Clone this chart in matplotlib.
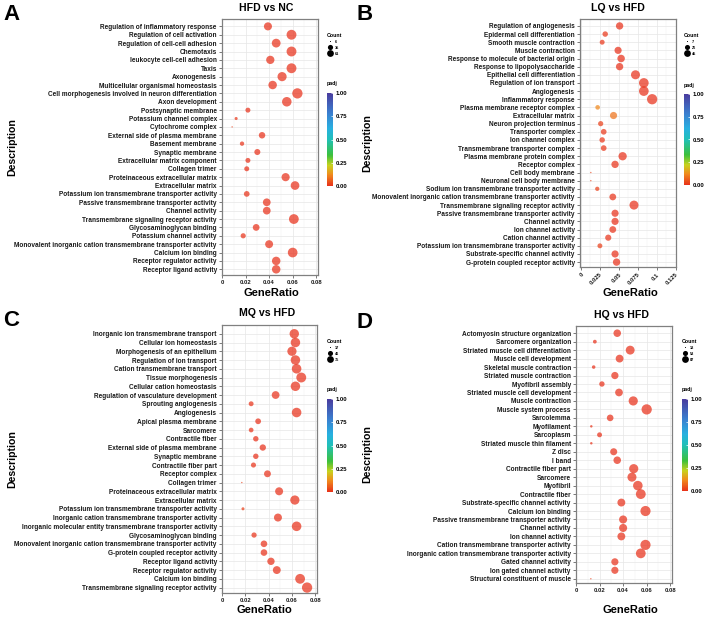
import numpy as np
import matplotlib.pyplot as plt
from matplotlib.colors import LinearSegmentedColormap
from matplotlib.lines import Line2D

plt.rcParams['font.family'] = ['Liberation Sans', 'DejaVu Sans']
plt.rcParams['font.weight'] = 'bold'

W, H = 709, 618

# ---- panel A : HFD vs NC
a_terms = ["Regulation of inflammatory response", "Regulation of cell activation",
           "Regulation of cell-cell adhesion", "Chemotaxis", "leukocyte cell-cell adhesion",
           "Taxis", "Axonogenesis", "Multicellular organismal homeostasis",
           "Cell morphogenesis involved in neuron differentiation", "Axon development",
           "Postsynaptic membrane", "Potassium channel complex", "Cytochrome complex",
           "External side of plasma membrane", "Basement membrane", "Synaptic membrane",
           "Extracellular matrix component", "Collagen trimer",
           "Proteinaceous extracellular matrix", "Extracellular matrix",
           "Potassium ion transmembrane transporter activity",
           "Passive transmembrane transporter activity", "Channel activity",
           "Transmembrane signaling receptor activity", "Glycosaminoglycan binding",
           "Potassium channel activity",
           "Monovalent inorganic cation transmembrane transporter activity",
           "Calcium ion binding", "Receptor regulator activity", "Receptor ligand activity"]
a_ratio = [0.039, 0.059, 0.046, 0.059, 0.041, 0.059, 0.051, 0.043, 0.064, 0.055,
           0.022, 0.012, 0.0086, 0.034, 0.017, 0.030, 0.022, 0.021, 0.054, 0.062,
           0.021, 0.038, 0.038, 0.061, 0.029, 0.018, 0.040, 0.060, 0.046, 0.046]
a_count = [37, 56, 44, 56, 39, 56, 48, 41, 61, 52,
           15, 8, 6, 24, 12, 21, 15, 15, 38, 43,
           19, 34, 34, 55, 26, 16, 36, 54, 41, 41]
a_padj = [0.001, 0.0, 0.0, 0.0, 0.001, 0.0, 0.0, 0.001, 0.0, 0.0,
          0.002, 0.01, 0.02, 0.0, 0.005, 0.001, 0.002, 0.003, 0.0, 0.0,
          0.004, 0.0, 0.0, 0.0, 0.001, 0.006, 0.0, 0.0, 0.0, 0.0]
a_breaks = [6, 35, 61]

# ---- panel B : LQ vs HFD
b_terms = ["Regulation of angiogenesis", "Epidermal cell differentiation",
           "Smooth muscle contraction", "Muscle contraction",
           "Response to molecule of bacterial origin", "Response to lipopolysaccharide",
           "Epithelial cell differentiation", "Regulation of ion transport", "Angiogenesis",
           "Inflammatory response", "Plasma membrane receptor complex",
           "Extracellular matrix", "Neuron projection terminus", "Transporter complex",
           "Ion channel complex", "Transmembrane transporter complex",
           "Plasma membrane protein complex", "Receptor complex", "Cell body membrane",
           "Neuronal cell body membrane", "Sodium ion transmembrane transporter activity",
           "Monovalent inorganic cation transmembrane transporter activity",
           "Transmembrane signaling receptor activity",
           "Passive transmembrane transporter activity", "Channel activity",
           "Ion channel activity", "Cation channel activity",
           "Potassium ion transmembrane transporter activity",
           "Substrate-specific channel activity", "G-protein coupled receptor activity"]
b_ratio = [0.051, 0.032, 0.028, 0.049, 0.053, 0.051, 0.072, 0.083, 0.083, 0.094,
           0.022, 0.043, 0.026, 0.030, 0.028, 0.030, 0.055, 0.045, 0.013, 0.013,
           0.0215, 0.042, 0.070, 0.045, 0.045, 0.042, 0.036, 0.025, 0.045, 0.047]
b_count = [24, 15, 13, 23, 25, 24, 35, 40, 40, 45,
           12, 23, 14, 16, 15, 16, 30, 24, 7, 7,
           11, 21, 35, 23, 23, 21, 18, 13, 23, 24]
b_padj = [0.001, 0.01, 0.01, 0.002, 0.001, 0.001, 0.0, 0.0, 0.0, 0.0,
          0.12, 0.09, 0.02, 0.01, 0.01, 0.01, 0.002, 0.004, 0.03, 0.03,
          0.02, 0.004, 0.0, 0.002, 0.002, 0.004, 0.006, 0.02, 0.002, 0.003]
b_breaks = [7, 26, 45]

# ---- panel C : MQ vs HFD
c_terms = ["Inorganic ion transmembrane transport", "Cellular ion homeostasis",
           "Morphogenesis of an epithelium", "Regulation of ion transport",
           "Cation transmembrane transport", "Tissue morphogenesis",
           "Cellular cation homeostasis", "Regulation of vasculature development",
           "Sprouting angiogenesis", "Angiogenesis", "Apical plasma membrane", "Sarcomere",
           "Contractile fiber", "External side of plasma membrane", "Synaptic membrane",
           "Contractile fiber part", "Receptor complex", "Collagen trimer",
           "Proteinaceous extracellular matrix", "Extracellular matrix",
           "Potassium ion transmembrane transporter activity",
           "Inorganic cation transmembrane transporter activity",
           "Inorganic molecular entity transmembrane transporter activity",
           "Glycosaminoglycan binding",
           "Monovalent inorganic cation transmembrane transporter activity",
           "G-protein coupled receptor activity", "Receptor ligand activity",
           "Receptor regulator activity", "Calcium ion binding",
           "Transmembrane signaling receptor activity"]
c_ratio = [0.062, 0.063, 0.060, 0.063, 0.064, 0.068, 0.063, 0.046, 0.025, 0.064,
           0.031, 0.025, 0.029, 0.035, 0.029, 0.027, 0.039, 0.017, 0.049, 0.0625,
           0.018, 0.048, 0.064, 0.0275, 0.036, 0.036, 0.042, 0.047, 0.067, 0.073]
c_count = [64, 65, 62, 65, 66, 70, 65, 47, 26, 66,
           31, 25, 29, 35, 29, 27, 39, 17, 49, 62,
           19, 49, 66, 28, 37, 37, 43, 48, 69, 75]
c_padj = [0.0, 0.0, 0.0, 0.0, 0.0, 0.0, 0.0, 0.001, 0.004, 0.0,
          0.003, 0.004, 0.003, 0.002, 0.003, 0.004, 0.002, 0.02, 0.0, 0.0,
          0.02, 0.0, 0.0, 0.004, 0.002, 0.002, 0.001, 0.0, 0.0, 0.0]
c_breaks = [17, 46, 75]

# ---- panel D : HQ vs HFD
d_terms = ["Actomyosin structure organization", "Sarcomere organization",
           "Striated muscle cell differentiation", "Muscle cell development",
           "Skeletal muscle contraction", "Striated muscle contraction",
           "Myofibril assembly", "Striated muscle cell development", "Muscle contraction",
           "Muscle system process", "Sarcolemma", "Myofilament", "Sarcoplasm",
           "Striated muscle thin filament", "Z disc", "I band", "Contractile fiber part",
           "Sarcomere", "Myofibril", "Contractile fiber",
           "Substrate-specific channel activity", "Calcium ion binding",
           "Passive transmembrane transporter activity", "Channel activity",
           "Ion channel activity", "Cation transmembrane transporter activity",
           "Inorganic cation transmembrane transporter activity",
           "Gated channel activity", "Ion gated channel activity",
           "Structural constituent of muscle"]
d_ratio = [0.035, 0.016, 0.046, 0.037, 0.015, 0.033, 0.022, 0.0365, 0.0486, 0.060,
           0.029, 0.013, 0.020, 0.013, 0.032, 0.035, 0.049, 0.0475, 0.0525, 0.055,
           0.0385, 0.059, 0.040, 0.040, 0.0385, 0.059, 0.055, 0.033, 0.033, 0.0126]
d_count = [51, 23, 67, 54, 22, 48, 32, 53, 71, 87,
           42, 19, 29, 19, 46, 51, 71, 69, 76, 80,
           55, 85, 57, 57, 55, 85, 79, 47, 47, 18]
d_padj = [0.0, 0.003, 0.0, 0.0, 0.003, 0.0, 0.001, 0.0, 0.0, 0.0,
          0.001, 0.005, 0.002, 0.005, 0.0, 0.0, 0.0, 0.0, 0.0, 0.0,
          0.001, 0.0, 0.001, 0.001, 0.001, 0.0, 0.0, 0.002, 0.002, 0.02]
d_breaks = [18, 53, 87]

cmap = LinearSegmentedColormap.from_list('padj', [
    (0.0, '#e8311a'), (0.12, '#f08a1c'), (0.22, '#c8d21e'), (0.33, '#3cc03c'),
    (0.5, '#20c0b8'), (0.62, '#28b0e0'), (0.78, '#3a80d0'), (1.0, '#4a3c9e')])


def fx(px):
    return px / W


def fy(py):
    return 1 - py / H


def diam(c, lo, hi):
    # ggplot-like area scale: diameter grows with sqrt of count
    return 1.0 + 6.4 * np.sqrt((np.asarray(c, float) - lo) / (hi - lo))


fig = plt.figure(figsize=(W / 100, H / 100), dpi=100)

panels = [
    # letter, title, terms, ratio, count, padj, breaks, axes box (l, t, r, b), xlim, ticks, ticklabels,
    # title xy, xlabel xy, legend x, count title y, cbar (top, bottom), rotate, ylim
    ('A', 'HFD vs NC', a_terms, a_ratio, a_count, a_padj, a_breaks, (222, 19, 318, 275),
     (0, 0.0815), [0, 0.02, 0.04, 0.06, 0.08], ['0', '0.02', '0.04', '0.06', '0.08'],
     (266, 8), (271, 293), 327, 33, (93, 186), False, (29.68, -0.88)),
    ('B', 'LQ vs HFD', b_terms, b_ratio, b_count, b_padj, b_breaks, (580, 19, 676, 267),
     (-0.0013, 0.1255), [0, 0.025, 0.05, 0.075, 0.1, 0.125],
     ['0', '0.025', '0.05', '0.075', '0.1', '0.125'],
     (618, 8), (630, 293), 684, 33, (94, 185), True, (29.6, -0.85)),
    ('C', 'MQ vs HFD', c_terms, c_ratio, c_count, c_padj, c_breaks, (222, 325, 317, 593),
     (0, 0.0815), [0, 0.02, 0.04, 0.06, 0.08], ['0', '0.02', '0.04', '0.06', '0.08'],
     (267, 313), (264, 610), 327, 339, (399, 492), False, (29.62, -1.0)),
    ('D', 'HQ vs HFD', d_terms, d_ratio, d_count, d_padj, d_breaks, (576, 326, 672, 583),
     (0, 0.0815), [0, 0.02, 0.04, 0.06, 0.08], ['0', '0.02', '0.04', '0.06', '0.08'],
     (622, 315), (630, 610), 682, 339, (399, 491), False, (29.5, -0.85)),
]

for (letter, title, terms, ratio, count, padj, breaks, box, xlim, ticks, tlabels,
     txy, lxy, legx, legy, cb, rotate, ylim) in panels:
    l, t, r, b = box
    ax = fig.add_axes([fx(l), fy(b), (r - l) / W, (b - t) / H])
    n = len(terms)
    lo, hi = breaks[0], breaks[-1]
    sc = ax.scatter(ratio, np.arange(n), s=diam(count, lo, hi) ** 2, c=padj, cmap=cmap,
                    vmin=0, vmax=1, alpha=0.72, linewidths=0, zorder=3)
    ax.set_ylim(*ylim)
    ax.set_xlim(*xlim)
    ax.set_yticks(np.arange(n))
    ax.set_yticklabels(terms, fontsize=4.7, fontweight='bold', color='#1a1a1a')
    ax.set_xticks(ticks)
    if rotate:
        ax.set_xticklabels(tlabels, fontsize=4.2, fontweight='bold', color='#1a1a1a',
                           rotation=45, ha='right', rotation_mode='anchor')
    else:
        ax.set_xticklabels(tlabels, fontsize=4.2, fontweight='bold', color='#1a1a1a')
    mids = [(ticks[i] + ticks[i + 1]) / 2 for i in range(len(ticks) - 1)]
    ax.set_xticks(mids, minor=True)
    ax.tick_params(axis='x', which='minor', length=0)
    ax.tick_params(axis='both', which='major', length=2.2, width=0.5, color='#444444', pad=1.5)
    ax.grid(True, which='major', color='#e6e6e6', linewidth=0.5, zorder=0)
    ax.grid(True, which='minor', axis='x', color='#f2f2f2', linewidth=0.35, zorder=0)
    ax.set_axisbelow(True)
    for sp in ax.spines.values():
        sp.set_color('#808080')
        sp.set_linewidth(0.9)

    fig.text(fx(txy[0]), fy(txy[1]), title, ha='center', va='center', fontsize=7.6,
             fontweight='bold')
    fig.text(fx(lxy[0]), fy(lxy[1]), 'GeneRatio', ha='center', va='center', fontsize=8,
             fontweight='bold')
    fig.text(fx(12 if l < 300 else 367), fy((t + b) / 2), 'Description', rotation=90,
             ha='center', va='center', fontsize=7.6, fontweight='bold')
    fig.text(fx(3 if l < 300 else 357), fy(t - 4), letter, ha='left', va='center',
             fontsize=16, fontweight='bold')

    handles = [Line2D([], [], marker='o', linestyle='', color='black', markeredgewidth=0,
                      markersize=float(diam(v, lo, hi)) * 0.66) for v in breaks]
    leg = ax.legend(handles, [str(v) for v in breaks], title='Count', loc='upper left',
                    bbox_to_anchor=(fx(legx), fy(legy)), bbox_transform=fig.transFigure,
                    frameon=False, fontsize=2.8, title_fontsize=3.8, handlelength=1.7,
                    handleheight=1.9, handletextpad=0.3, labelspacing=0.15, borderpad=0,
                    borderaxespad=0, alignment='left')

    cax = fig.add_axes([fx(legx), fy(cb[1]), 5.5 / W, (cb[1] - cb[0]) / H])
    cbar = fig.colorbar(sc, cax=cax)
    cbar.solids.set_alpha(1)
    cbar.outline.set_visible(False)
    cbar.set_ticks([0, 0.25, 0.5, 0.75, 1.0])
    cbar.set_ticklabels(['0.00', '0.25', '0.50', '0.75', '1.00'])
    cax.tick_params(length=1.5, width=0.5, color='white', direction='in', labelsize=4.2,
                    pad=2)
    for lab in cax.get_yticklabels():
        lab.set_fontweight('bold')
    fig.text(fx(legx), fy(cb[0] - 9), 'padj', ha='left', va='center', fontsize=3.8,
             fontweight='bold')

fig.savefig('out.png', dpi=100)
